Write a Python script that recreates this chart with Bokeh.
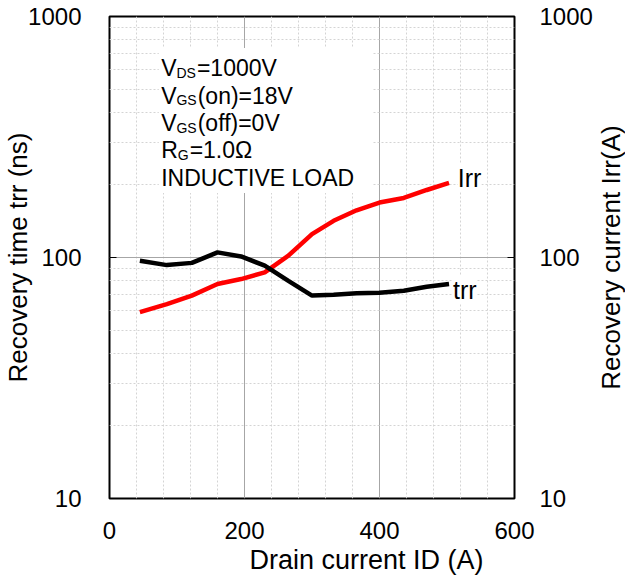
import math
from bokeh.plotting import figure
from bokeh.layouts import row
from bokeh.models import LogAxis, FixedTicker, Label, BoxAnnotation, Title
from bokeh.embed import file_html
from bokeh.resources import INLINE

# ---- data ----
drain_current = [45, 85, 122, 160, 195, 230, 265, 300, 332, 366, 400, 436, 470, 503]
trr_ns = [97, 93, 95, 105, 101, 92.5, 80, 69.5, 70, 71, 71.4, 72.8, 75.6, 77.6]
irr_a = [59.3, 64, 69.5, 77.6, 81.4, 86.8, 101.8, 125, 142, 157, 169, 176.7, 190.6, 204]

x_ticks = [0, 200, 400, 600]
x_minor_ticks = [40, 80, 120, 160, 240, 280, 320, 360, 440, 480, 520, 560]
y_ticks = [10, 100, 1000]
y_tick_labels = ["10", "100", "1000"]
y_minor_ticks = [20, 30, 40, 50, 60, 70, 80, 90, 200, 300, 400, 500, 600, 700, 800, 900]
x_tick_labels = ["0", "200", "400", "600"]

x_title = "Drain current ID (A)"
y_title = "Recovery time trr (ns)"
y2_title = "Recovery current Irr(A)"

conditions = [
    ("V", "DS", "=1000V"),
    ("V", "GS", "(on)=18V"),
    ("V", "GS", "(off)=0V"),
    ("R", "G", "=1.0\u03a9"),
    ("INDUCTIVE LOAD", "", ""),
]

FONT = "Liberation Sans"
TOTAL_W, TOTAL_H = 625, 582
SIDE_W = 30
DY = 9  # small upward nudge for in-plot texts

p = figure(width=TOTAL_W - SIDE_W, height=TOTAL_H, x_range=(0, 600), y_range=(10, 1000),
           y_axis_type="log", output_backend="svg", toolbar_location=None,
           min_border_left=107, min_border_right=78, min_border_top=16,
           min_border_bottom=84)
p.background_fill_color = "white"
p.border_fill_color = "white"
p.outline_line_color = "black"
p.outline_line_width = 2

xt = FixedTicker(ticks=x_ticks, minor_ticks=x_minor_ticks)
yt = FixedTicker(ticks=y_ticks, minor_ticks=y_minor_ticks)
p.xaxis.ticker = xt
p.yaxis.ticker = yt
p.xgrid.ticker = xt
p.ygrid.ticker = yt

for g in (p.xgrid, p.ygrid):
    g.grid_line_color = "#a6a6a6"
    g.grid_line_width = 1
    g.minor_grid_line_color = "#d4d4d4"
    g.minor_grid_line_width = 1
    g.minor_grid_line_dash = "2 2"

ylabels = dict(zip(y_ticks, y_tick_labels))
xlabels = dict(zip(x_ticks, x_tick_labels))

right = LogAxis(ticker=yt)
p.add_layout(right, "right")

for ax in (p.yaxis[0], right):
    ax.major_label_overrides = ylabels
    ax.major_tick_in = 7
    ax.major_tick_out = 0
    ax.major_tick_line_color = "black"
    ax.minor_tick_line_color = None
    ax.axis_line_color = None
    ax.major_label_text_font = FONT
    ax.major_label_text_font_size = "24px"
    ax.major_label_text_color = "black"
p.yaxis[0].major_label_standoff = 24
right.major_label_standoff = 21

ly = p.yaxis[0]
ly.axis_label = y_title
ly.axis_label_standoff = -8
ly.axis_label_text_font = FONT
ly.axis_label_text_font_size = "26px"
ly.axis_label_text_font_style = "normal"
ly.axis_label_text_color = "black"

xa = p.xaxis[0]
xa.major_label_overrides = xlabels
xa.major_tick_in = 0
xa.major_tick_out = 0
xa.minor_tick_line_color = None
xa.axis_line_color = None
xa.major_label_standoff = 19
xa.major_label_text_font = FONT
xa.major_label_text_font_size = "24px"
xa.major_label_text_color = "black"

# x title sits right of centre in the reference
p.add_layout(Title(text=x_title, align="left", offset=140, standoff=3,
                   text_font=FONT, text_font_size="27px", text_font_style="normal",
                   text_color="black"), "below")

# white box behind the conditions text
p.add_layout(BoxAnnotation(left=73, right=389, top=740, bottom=185,
                           fill_color="white", fill_alpha=1.0,
                           line_color=None, level="underlay"))

p.line(drain_current, irr_a, line_color="#ff0000", line_width=4.5)
p.line(drain_current, trr_ns, line_color="black", line_width=4.5)

# conditions text with subscripts
main_w = {"V": 0.667 * 23, "R": 0.722 * 23}
sub_w = {"DS": 1.389 * 14 + 1, "GS": 1.445 * 14 + 1, "G": 0.778 * 14 + 1}
for i, (a, sub, rest) in enumerate(conditions):
    yoff = -27.3 * i + DY
    p.add_layout(Label(x=76.5, y=558.5, y_offset=yoff, text=a,
                       text_font=FONT, text_font_size="23px", text_color="black",
                       text_baseline="alphabetic"))
    if sub:
        x1 = main_w[a]
        p.add_layout(Label(x=76.5, y=558.5, x_offset=x1, y_offset=yoff - 4.5, text=sub,
                           text_font=FONT, text_font_size="14px", text_color="black",
                           text_baseline="alphabetic"))
        p.add_layout(Label(x=76.5, y=558.5, x_offset=x1 + sub_w[sub], y_offset=yoff,
                           text=rest, text_font=FONT, text_font_size="23px",
                           text_color="black", text_baseline="alphabetic"))

# series labels
p.add_layout(Label(x=516, y=196.7, y_offset=DY, text="Irr", text_font=FONT,
                   text_font_size="25px", text_color="black", text_baseline="alphabetic",
                   background_fill_color="white"))
p.add_layout(Label(x=509, y=67.5, y_offset=DY, text="trr", text_font=FONT,
                   text_font_size="25px", text_color="black", text_baseline="alphabetic",
                   background_fill_color="white"))

# narrow strip on the right that carries the secondary-axis title
side = figure(width=SIDE_W, height=TOTAL_H, x_range=(0, SIDE_W), y_range=p.y_range,
              y_axis_type="log", output_backend="svg", toolbar_location=None,
              x_axis_location=None, y_axis_location=None,
              min_border_left=0, min_border_right=0, min_border_top=16,
              min_border_bottom=84)
side.outline_line_color = None
side.grid.visible = False
side.background_fill_color = "white"
side.border_fill_color = "white"
side.add_layout(Label(x=SIDE_W / 2, y=100, text=y2_title, text_font=FONT,
                      text_font_size="26px", text_color="black", text_align="center",
                      text_baseline="middle", angle=math.pi / 2))

layout = row(p, side, spacing=0)
open("out.html", "w").write(file_html(layout, INLINE))
